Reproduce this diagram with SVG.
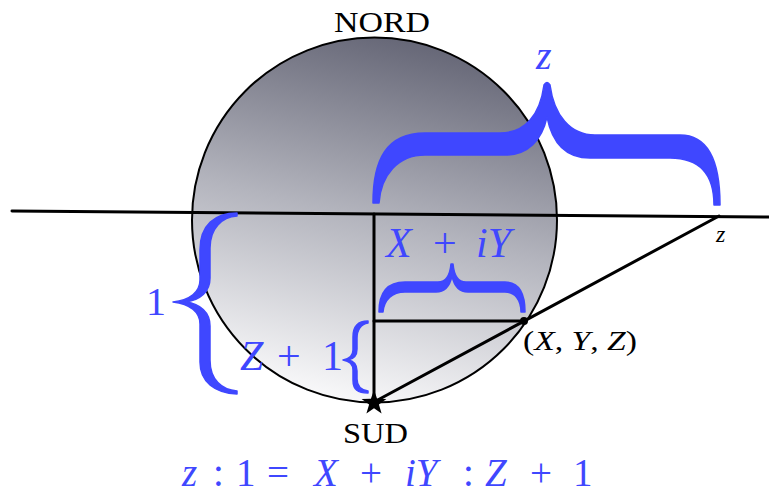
<svg xmlns="http://www.w3.org/2000/svg" width="769" height="495" viewBox="0 0 769 495">
<defs>
<linearGradient id="g" x1="0.62" y1="0" x2="0.38" y2="1">
<stop offset="0" stop-color="#646575"/>
<stop offset="0.5" stop-color="#b3b4bd"/>
<stop offset="1" stop-color="#fafafb"/>
</linearGradient>
</defs>
<style>
.ln{stroke:#000;stroke-width:3;fill:none;stroke-linecap:round}
.br{fill:#3f47ff;stroke:#3f47ff;stroke-width:1.5;stroke-linejoin:round}
.bk{font-family:"Liberation Serif",serif;fill:#000}
.bl{font-family:"Liberation Serif",serif;fill:#3f47ff}
.it{font-style:italic}
</style>
<g id="sphere">
<circle cx="374.5" cy="220" r="182.5" fill="url(#g)" stroke="#000" stroke-width="2"/>
</g>
<g id="connectors">
<line class="ln" x1="12" y1="211" x2="769" y2="217"/>
<line class="ln" x1="374" y1="214" x2="374" y2="402"/>
<line class="ln" x1="374" y1="321" x2="524" y2="321"/>
<line class="ln" x1="374" y1="402" x2="719" y2="216"/>
</g>
<g id="braces">
<path class="br" d="M373,203 C373,160 386,133 425,133 L500,133 C525,133 540,115 544,85 Q547,80 550,85 C554,115 570,135 595,135 L680,135 C710,135 720,165 720,205 L714,205 C714,177 702,158 670,158 L590,158 C565,158 552,142 547,117 C542,140 528,155 505,155 L425,155 C398,155 381,175 379,203 Z"/>
<path class="br" d="M379,312 C379,292 388,282 405,282 L438,282 C446,282 450,275 451,264 L453,264 C454,275 458,282 466,282 L505,282 C518,282 525,292 525,312 L521,312 C521,300 515,292 505,292 L468,292 C458,292 454,285 452,276 C450,285 446,292 436,292 L405,292 C392,292 384,300 383,312 Z"/>
<path class="br" d="M237,213 C215,213 200,225 200,250 L200,280 C200,292 190,300 173,302 C190,304 200,312 200,324 L200,362 C200,382 215,393 237,394 L237,391 C222,390 210,380 210,360 L210,326 C210,312 200,304 186,302 C200,300 210,292 210,278 L210,248 C210,228 222,217 237,216 Z"/>
<path class="br" d="M368,321 C358,321 353,327 353,337 L353,350 C353,356 349,359 343,360 C349,361 353,364 353,370 L353,380 C353,390 358,393 368,393 L368,391 C361,390 357,387 357,379 L357,371 C357,365 354,361 348,360 C354,359 357,355 357,349 L357,338 C357,330 361,324 368,323 Z"/>
</g>
<g id="points">
<circle cx="524" cy="321" r="4" fill="#000"/>
<path d="M374,390 L377.1,398.8 L386.4,399 L378.9,404.6 L381.6,413.5 L374,408.2 L366.4,413.5 L369.1,404.6 L361.6,399 L370.9,398.8 Z" fill="#000"/>
</g>
<g id="nord"><text class="bk" x="334" y="32" font-size="29" textLength="96" lengthAdjust="spacingAndGlyphs">NORD</text></g>
<g id="sud"><text class="bk" x="343" y="443" font-size="29" textLength="65" lengthAdjust="spacingAndGlyphs">SUD</text></g>
<g id="label-z-top"><text class="bl it" x="536" y="69" font-size="40">z</text></g>
<g id="label-z-pt"><text class="bk it" x="716" y="242" font-size="24">z</text></g>
<g id="label-XYZ"><text class="bk" x="523" y="350" font-size="27" textLength="114" lengthAdjust="spacingAndGlyphs">(<tspan class="it">X</tspan>, <tspan class="it">Y</tspan>, <tspan class="it">Z</tspan>)</text></g>
<g id="label-XiY"><text class="bl" y="257" font-size="42"><tspan class="it" x="386">X</tspan><tspan x="433">+</tspan><tspan class="it" x="476">iY</tspan></text></g>
<g id="label-1"><text class="bl" x="146" y="315" font-size="40">1</text></g>
<g id="label-Z1"><text class="bl" y="370" font-size="42"><tspan class="it" x="240">Z</tspan><tspan x="277">+</tspan><tspan x="322">1</tspan></text></g>
<g id="equation"><text class="bl" y="486" font-size="39"><tspan class="it" x="182">z</tspan><tspan x="213">:</tspan><tspan x="236">1</tspan><tspan x="267">=</tspan><tspan class="it" x="314">X</tspan><tspan x="360">+</tspan><tspan class="it" x="405">iY</tspan><tspan x="463">:</tspan><tspan class="it" x="485">Z</tspan><tspan x="530">+</tspan><tspan x="573">1</tspan></text></g>
</svg>
